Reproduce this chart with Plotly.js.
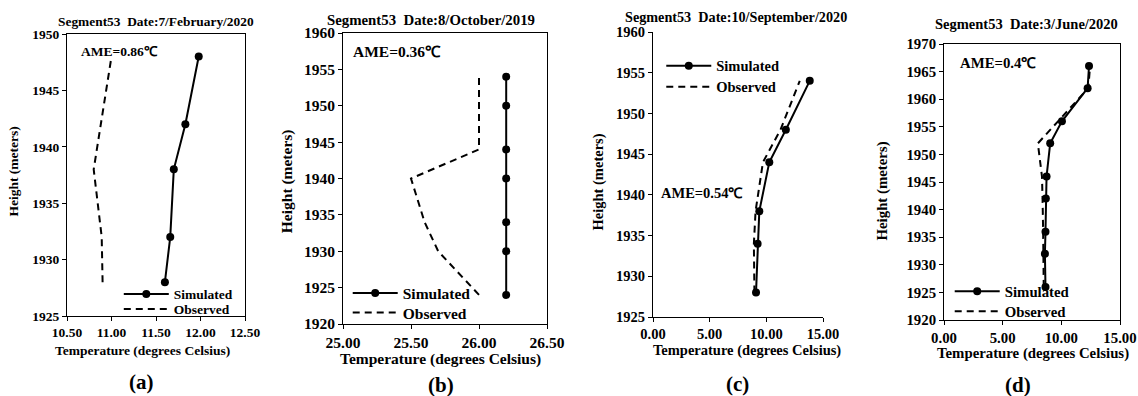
<!DOCTYPE html>
<html>
<head>
<meta charset="utf-8">
<script src="https://cdn.plot.ly/plotly-3.0.1.min.js"></script>
<style>
  html, body { margin: 0; padding: 0; background: #ffffff; }
  body { width: 1138px; height: 396px; position: relative; overflow: hidden; }
  .panel { position: absolute; top: 0; height: 396px; }
</style>
</head>
<body>
<div id="pa" class="panel"></div>
<div id="pb" class="panel"></div>
<div id="pc" class="panel"></div>
<div id="pd" class="panel"></div>
<script>
// ---- Temperature profiles, Segment53 ----
// (a) 7 February 2020
const heightA = [1928, 1932, 1938, 1942, 1948];
const simA = [11.60, 11.66, 11.70, 11.83, 11.98];
const obsA = [10.90, 10.89, 10.80, 10.88, 11.00];

// (b) 8 October 2019
const heightB = [1924, 1930, 1934, 1940, 1944, 1950, 1954];
const simB = [26.20, 26.20, 26.20, 26.20, 26.20, 26.20, 26.20];
const obsB = [26.00, 25.70, 25.60, 25.50, 26.00, 26.00, 26.00];

// (c) 10 September 2020
const heightC = [1928, 1934, 1938, 1944, 1948, 1954];
const simC = [9.09, 9.23, 9.38, 10.26, 11.72, 13.83];
const obsC = [8.95, 8.90, 9.05, 9.70, 11.25, 12.95];

// (d) 3 June 2020
const heightD = [1926, 1932, 1936, 1942, 1946, 1952, 1956, 1962, 1966];
const simD = [8.65, 8.60, 8.65, 8.68, 8.74, 9.05, 10.05, 12.24, 12.36];
const obsD = [8.50, 8.50, 8.45, 8.40, 8.35, 8.00, 9.70, 12.30, 12.45];

const panelTitles = [
  "Segment53  Date:7/February/2020",
  "Segment53  Date:8/October/2019",
  "Segment53  Date:10/September/2020",
  "Segment53  Date:3/June/2020"
];
const ameLabels = ["AME=0.86℃", "AME=0.36℃", "AME=0.54℃", "AME=0.4℃"];
const panelLetters = ["(a)", "(b)", "(c)", "(d)"];
const seriesNames = ["Simulated", "Observed"];
const xRanges = [[10.5, 12.5], [25.0, 26.5], [0, 15], [0, 15]];
const xSteps = [0.5, 0.5, 5, 5];
const yRanges = [[1925, 1950], [1920, 1960], [1925, 1960], [1920, 1970]];
const yStep = 5;
const xTitle = "Temperature (degrees Celsius)";
const yTitle = "Height (meters)";

// ---- page geometry of each panel (pixels) ----
const FONT = "Liberation Serif";
const frames = [
  { id: "pa", left: 0,   width: 290, x0: 67.3,  x1: 245.0,  y0: 34.0, y1: 316.0, box: true,
    fs: 13.5, tfs: 13.4, titleXY: [156, 22], xtXY: [142.5, 350], ytXY: [13, 172], letterXY: [142, 382],
    ameXY: [120, 52], leg1Y: 293.3, leg2Y: 308.3, legX: 119 },
  { id: "pb", left: 270, width: 300, x0: 343.3, x1: 546.7, y0: 33.3, y1: 324.3, box: true,
    fs: 15.5, tfs: 14.8, titleXY: [431, 20], xtXY: [441, 359], ytXY: [287, 182], letterXY: [441, 385],
    ameXY: [397, 52], leg1Y: 293.3, leg2Y: 312.7, legX: 348 },
  { id: "pc", left: 560, width: 290, x0: 652.7, x1: 823.3, y0: 31.7, y1: 317.3, box: false,
    fs: 14.5, tfs: 14.2, titleXY: [736, 17], xtXY: [747.5, 351], ytXY: [598, 182], letterXY: [737, 384],
    ameXY: [702, 193], leg1Y: 65, leg2Y: 86, legX: 661 },
  { id: "pd", left: 845, width: 293, x0: 944.3, x1: 1120.0, y0: 44.3, y1: 320.0, box: true,
    fs: 14.8, tfs: 14.5, titleXY: [1027, 24], xtXY: [1033.5, 353], ytXY: [883, 191], letterXY: [1018, 385],
    ameXY: [998, 63], leg1Y: 291, leg2Y: 311, legX: 950 }
];

const heights = [heightA, heightB, heightC, heightD];
const sims = [simA, simB, simC, simD];
const obss = [obsA, obsB, obsC, obsD];

function paperX(f, px) { return (px - f.x0) / (f.x1 - f.x0); }
function paperY(f, py) { return (f.y1 - py) / (f.y1 - f.y0); }

frames.forEach(function (f, i) {
  const el = document.getElementById(f.id);
  el.style.left = f.left + "px";
  el.style.width = f.width + "px";

  function textNote(xy, text, size, angle) {
    return {
      xref: "paper", yref: "paper",
      x: paperX(f, xy[0]), y: paperY(f, xy[1]),
      xanchor: "center", yanchor: "middle",
      text: "<b>" + text + "</b>", showarrow: false, textangle: angle || 0,
      font: { family: FONT, size: size, color: "#000" }
    };
  }
  function legendBox(centerY) {
    return {
      x: paperX(f, f.legX), y: paperY(f, centerY - f.fs - 1),
      xanchor: "left", yanchor: "top",
      bgcolor: "rgba(0,0,0,0)", borderwidth: 0, itemwidth: 45,
      font: { family: FONT, size: f.fs, color: "#000", weight: "bold" }
    };
  }

  const traces = [
    {
      x: sims[i], y: heights[i], name: seriesNames[0], legend: "legend",
      type: "scatter", mode: "lines+markers",
      line: { color: "#000", width: 2 },
      marker: { color: "#000", size: 8 }
    },
    {
      x: obss[i], y: heights[i], name: seriesNames[1], legend: "legend2",
      type: "scatter", mode: "lines",
      line: { color: "#000", width: 2, dash: "7px,5px" }
    }
  ];

  const axisCommon = {
    showgrid: false, zeroline: false, showline: true,
    linecolor: "#000", linewidth: 1, mirror: f.box,
    ticks: "outside", ticklen: 4, tickwidth: 1, tickcolor: "#000",
    tickfont: { family: FONT, size: f.fs, color: "#000", weight: "bold" }
  };

  const layout = {
    width: f.width, height: 396,
    font: { family: FONT },
    margin: { l: f.x0 - f.left, r: f.left + f.width - f.x1, t: f.y0, b: 396 - f.y1, pad: 0 },
    paper_bgcolor: "rgba(0,0,0,0)", plot_bgcolor: "rgba(0,0,0,0)",
    showlegend: true,
    legend: legendBox(f.leg1Y),
    legend2: legendBox(f.leg2Y),
    xaxis: Object.assign({}, axisCommon, {
      range: xRanges[i], dtick: xSteps[i], tick0: xRanges[i][0], tickformat: ".2f"
    }),
    yaxis: Object.assign({}, axisCommon, {
      range: yRanges[i], dtick: yStep, tick0: yRanges[i][0]
    }),
    annotations: [
      textNote(f.titleXY, panelTitles[i], f.tfs),
      textNote(f.xtXY, xTitle, f.fs),
      textNote(f.ytXY, yTitle, f.fs, -90),
      textNote(f.letterXY, panelLetters[i], 21),
      textNote(f.ameXY, ameLabels[i], f.fs)
    ]
  };

  Plotly.newPlot(el, traces, layout, { staticPlot: true, displayModeBar: false });
});
</script>
</body>
</html>
